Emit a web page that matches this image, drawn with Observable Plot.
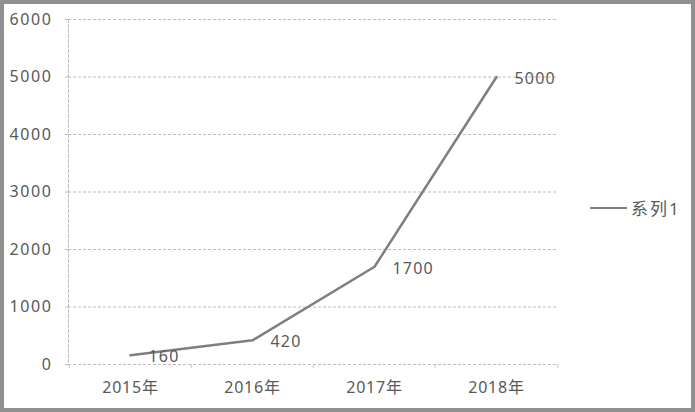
<!DOCTYPE html>
<html>
<head>
<meta charset="utf-8">
<script src="https://cdn.jsdelivr.net/npm/d3@7"></script>
<script src="https://cdn.jsdelivr.net/npm/@observablehq/plot@0.6"></script>
<style>
  html, body { margin: 0; padding: 0; background: #fff; }
  #wrap { position: relative; width: 695px; height: 412px; overflow: hidden; }
  #border { position: absolute; left: 0; top: 0; width: 695px; height: 412px; box-sizing: border-box; border: 4px solid #8f8f8f; pointer-events: none; }
  #legend { position: absolute; left: 590px; top: 195px; display: flex; align-items: center; font-family: "Noto Sans", "Noto Sans CJK SC", sans-serif; font-size: 17px; color: #595959; letter-spacing: 2px; }
  #legend .swatch { width: 37px; height: 0; border-top: 2.5px solid #7f7f7f; margin-right: 4px; }
  svg { font-family: "Noto Sans", "Noto Sans CJK SC", sans-serif; }
  .yax text { letter-spacing: 1.6px; }
  .xax text { letter-spacing: 0.8px; }
  .lbl text { letter-spacing: 1.2px; }
</style>
</head>
<body>
<div id="wrap">
  <div id="chart"></div>
  <div id="legend"><span class="swatch"></span><span>系列1</span></div>
  <div id="border"></div>
</div>
<script>
const years = ["2015年", "2016年", "2017年", "2018年"];
const values = [160, 420, 1700, 5000];
const yTicks = [0, 1000, 2000, 3000, 4000, 5000, 6000];
const seriesName = "系列1";
document.querySelector("#legend span:last-child").textContent = seriesName;

const data = years.map((y, i) => ({year: y, value: values[i]}));
const W = 695, H = 412;
const mL = 68, mR = 137, mT = 19, mB = 48;
const bw = (W - mL - mR) / years.length;

const chart = Plot.plot({
  width: W,
  height: H,
  marginLeft: mL,
  marginRight: mR,
  marginTop: mT,
  marginBottom: mB,
  style: {fontSize: "16px", color: "#595959", background: "transparent"},
  x: {type: "band", domain: years, padding: 0, label: null},
  y: {domain: [0, 6000], label: null},
  marks: [
    Plot.gridY(yTicks, {stroke: "#bdbdbd", strokeOpacity: 1, strokeDasharray: "3,2", strokeWidth: 1}),
    Plot.axisY(yTicks, {tickSize: 5, tickPadding: 11, tickFormat: d => String(d), stroke: "#bdbdbd", strokeDasharray: "3,2", fill: "#595959", fontSize: 16, className: "yax", label: null}),
    Plot.frame({anchor: "left", stroke: "#bdbdbd", strokeDasharray: "3,2"}),
    Plot.ruleX(years, {x: d => d, y1: 0, y2: -70, dx: -bw / 2, stroke: "#c8c8c8"}),
    Plot.ruleX([years[years.length - 1]], {x: d => d, y1: 0, y2: -70, dx: bw / 2, stroke: "#c8c8c8"}),
    Plot.axisX({tickSize: 0, tickPadding: 17, fill: "#595959", fontSize: 16, className: "xax", label: null}),
    Plot.line(data, {x: "year", y: "value", stroke: "#7f7f7f", strokeWidth: 2.5}),
    Plot.text(data, {x: "year", y: "value", text: d => String(d.value), dx: 18, dy: 2, textAnchor: "start", fill: "#595959", fontSize: 16, className: "lbl"})
  ]
});
document.getElementById("chart").appendChild(chart);
</script>
</body>
</html>
